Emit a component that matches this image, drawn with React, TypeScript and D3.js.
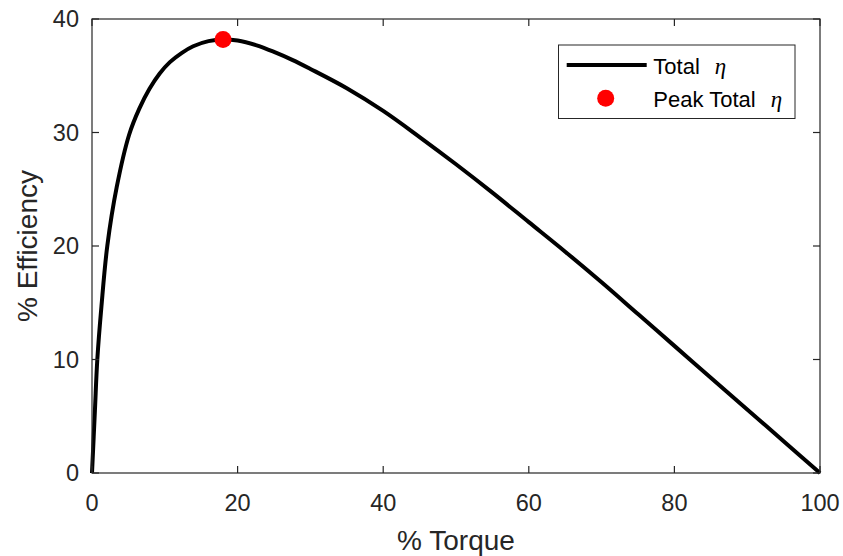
import React from "react";
import * as d3 from "d3";

const torque = [0, 0.4, 0.73, 1.3, 2.1, 3.4, 5.1, 6.5, 7.9, 9.3, 10.7, 12.3, 13.9, 16, 18, 20, 22.5, 25, 27.5, 30, 35, 40, 45, 50, 55, 60, 65, 70, 75, 80, 85, 90, 95, 100];
const efficiency = [0, 5.5, 10, 14.7, 20, 25.2, 29.8, 32.1, 33.85, 35.2, 36.2, 37.0, 37.6, 38.05, 38.2, 38.1, 37.7, 37.1, 36.4, 35.6, 33.9, 31.9, 29.6, 27.2, 24.7, 22.1, 19.5, 16.8, 14.0, 11.2, 8.4, 5.6, 2.8, 0];
const peakTorque = [18];
const peakEff = [38.2];
const xTicks = [0, 20, 40, 60, 80, 100];
const yTicks = [0, 10, 20, 30, 40];

const W = 843, H = 556;
const L = 92, R = 820, T = 19, B = 473;
const AX = "#262626";
const FONT = "'Liberation Sans', Arial, Helvetica, sans-serif";
const SERIF = "'Liberation Serif', 'Times New Roman', serif";

export default function App() {
  const x = d3.scaleLinear().domain([0, 100]).range([L, R]);
  const y = d3.scaleLinear().domain([0, 40]).range([B, T]);
  const pts = torque.map((t, i) => [t, efficiency[i]] as [number, number]);
  const line = d3.line<[number, number]>().x(d => x(d[0])).y(d => y(d[1])).curve(d3.curveCatmullRom.alpha(0.5));
  const tl = 7;
  return (
    <svg width={W} height={H} style={{ position: "absolute", left: 0, top: 0, background: "#fff" }}>
      <rect x={0} y={0} width={W} height={H} fill="#fff" />
      <path d={line(pts) || ""} fill="none" stroke="#000" strokeWidth={4} strokeLinejoin="round" />
      {peakTorque.map((p, i) => (
        <circle key={i} cx={x(p)} cy={y(peakEff[i])} r={8.5} fill="#ff0000" />
      ))}
      <rect x={L} y={T} width={R - L} height={B - T} fill="none" stroke={AX} strokeWidth={1.2} />
      {xTicks.map(t => (
        <g key={"x" + t}>
          <line x1={x(t)} x2={x(t)} y1={B} y2={B - tl} stroke={AX} strokeWidth={1.2} />
          <line x1={x(t)} x2={x(t)} y1={T} y2={T + tl} stroke={AX} strokeWidth={1.2} />
          <text x={x(t)} y={511} textAnchor="middle" fontFamily={FONT} fontSize={23.5} fill={AX}>{t}</text>
        </g>
      ))}
      {yTicks.map(t => (
        <g key={"y" + t}>
          <line x1={L} x2={L + tl} y1={y(t)} y2={y(t)} stroke={AX} strokeWidth={1.2} />
          <line x1={R} x2={R - tl} y1={y(t)} y2={y(t)} stroke={AX} strokeWidth={1.2} />
          <text x={79} y={y(t)} dy="0.36em" textAnchor="end" fontFamily={FONT} fontSize={23.5} fill={AX}>{t}</text>
        </g>
      ))}
      <text x={(L + R) / 2} y={549.5} textAnchor="middle" fontFamily={FONT} fontSize={28} fill={AX}>% Torque</text>
      <text transform={`translate(36.5,${(T + B) / 2}) rotate(-90)`} textAnchor="middle" fontFamily={FONT} fontSize={28} fill={AX}>% Efficiency</text>
      <g>
        <rect x={558.5} y={45} width={236.5} height={73.5} fill="#fff" stroke={AX} strokeWidth={1} />
        <line x1={566.7} x2={646.7} y1={65} y2={65} stroke="#000" strokeWidth={4} />
        <text x={653.3} y={73.5} fontFamily={FONT} fontSize={22} fill="#000">Total<tspan dx={15} fontFamily={SERIF} fontStyle="italic" fontSize={23}>η</tspan></text>
        <circle cx={605.7} cy={98.3} r={8.5} fill="#ff0000" />
        <text x={653.3} y={106.5} fontFamily={FONT} fontSize={22} fill="#000">Peak Total<tspan dx={15} fontFamily={SERIF} fontStyle="italic" fontSize={23}>η</tspan></text>
      </g>
    </svg>
  );
}
